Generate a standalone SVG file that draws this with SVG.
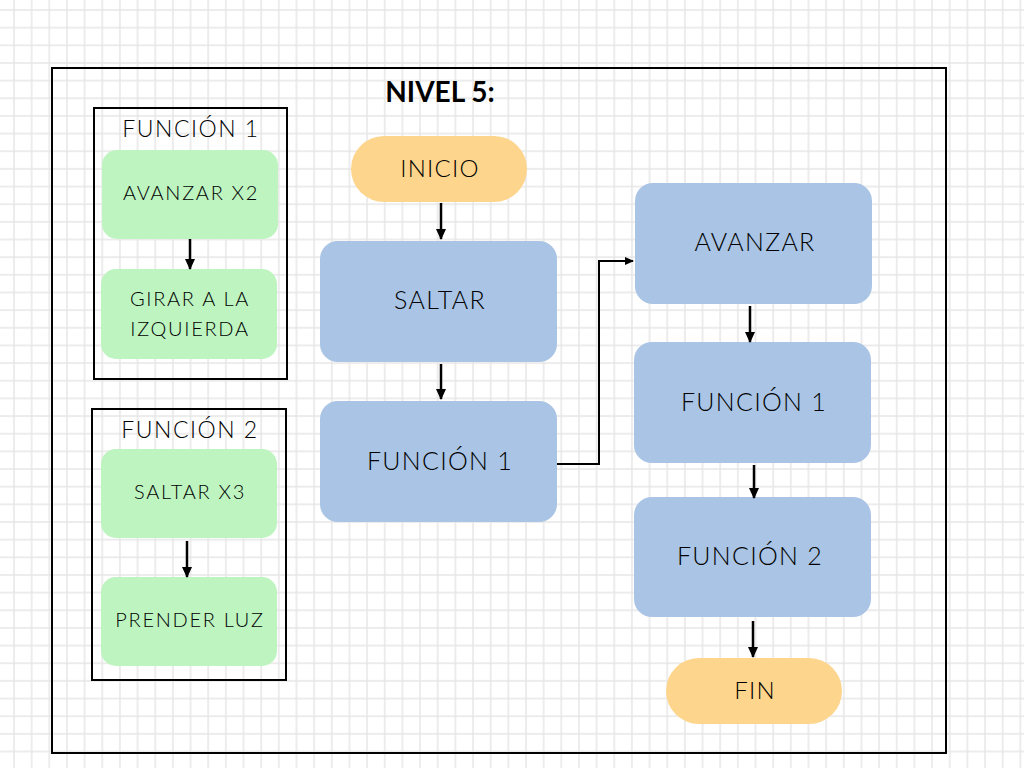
<svg xmlns="http://www.w3.org/2000/svg" width="1024" height="768" viewBox="0 0 1024 768">
<defs>
<pattern id="grid" patternUnits="userSpaceOnUse" x="5.17" y="1.17" width="17.655" height="17.655">
<path d="M8.83 0 V17.655 M0 8.83 H17.655" stroke="#e6e6e6" stroke-width="1.5" fill="none"/>
</pattern>
<marker id="ah" markerWidth="12" markerHeight="10" refX="10" refY="5" orient="auto" markerUnits="userSpaceOnUse">
<path d="M0 0 L11 5 L0 10 Z" fill="#000"/>
</marker>
<marker id="ahs" markerWidth="10" markerHeight="8" refX="8" refY="4" orient="auto" markerUnits="userSpaceOnUse">
<path d="M0 0 L9 4 L0 8 Z" fill="#000"/>
</marker>
</defs>
<style>
.t{font-family:Lato,"Open Sans","Liberation Sans",sans-serif;font-weight:300;fill:#000;text-anchor:middle}
.s{font-size:20px;letter-spacing:1.7px}
.h{font-size:23px;letter-spacing:1.5px}
.m{font-size:25px;letter-spacing:1.3px}
.g{fill:#bdf4c0}
.b{fill:#a9c4e4}
.o{fill:#fdd58c}
.frame{fill:none;stroke:#000;stroke-width:2}
.c{stroke:#000;stroke-width:2.5;fill:none;marker-end:url(#ah)}
</style>
<rect width="1024" height="768" fill="#fff"/>
<rect width="1024" height="768" fill="url(#grid)"/>
<rect class="frame" x="52" y="68" width="894" height="685"/>
<text class="t" x="440" y="102" font-size="28" style="font-weight:bold">NIVEL 5:</text>

<g id="funcion1-box">
<rect class="frame" x="94" y="108" width="193" height="271"/>
<text class="t h" x="191" y="137">FUNCIÓN 1</text>
</g>
<g id="avanzar-x2">
<rect class="g" x="102" y="150" width="176" height="89" rx="15"/>
<text class="t s" x="191" y="200">AVANZAR X2</text>
</g>
<g id="girar">
<rect class="g" x="101" y="269" width="176" height="90" rx="15"/>
<text class="t s" x="190" y="306">GIRAR A LA</text>
<text class="t s" x="190" y="336">IZQUIERDA</text>
</g>

<g id="funcion2-box">
<rect class="frame" x="92" y="409" width="194" height="271"/>
<text class="t h" x="190" y="438">FUNCIÓN 2</text>
</g>
<g id="saltar-x3">
<rect class="g" x="101" y="449" width="176" height="89" rx="15"/>
<text class="t s" x="190" y="499">SALTAR X3</text>
</g>
<g id="prender-luz">
<rect class="g" x="101" y="577" width="176" height="89" rx="15"/>
<text class="t s" x="190" y="627">PRENDER LUZ</text>
</g>

<g id="inicio">
<rect class="o" x="351" y="136" width="176" height="66" rx="33"/>
<text class="t" x="440" y="177" font-size="24" letter-spacing="1.2">INICIO</text>
</g>
<g id="saltar">
<rect class="b" x="320" y="241" width="237" height="121" rx="18"/>
<text class="t m" x="440" y="309">SALTAR</text>
</g>
<g id="funcion1-a">
<rect class="b" x="320" y="401" width="237" height="121" rx="18"/>
<text class="t m" x="440" y="470">FUNCIÓN 1</text>
</g>
<g id="avanzar">
<rect class="b" x="635" y="183" width="237" height="121" rx="18"/>
<text class="t m" x="755" y="251">AVANZAR</text>
</g>
<g id="funcion1-b">
<rect class="b" x="634" y="342" width="237" height="121" rx="18"/>
<text class="t m" x="754" y="411">FUNCIÓN 1</text>
</g>
<g id="funcion2">
<rect class="b" x="634" y="497" width="237" height="120" rx="18"/>
<text class="t m" x="750" y="565">FUNCIÓN 2</text>
</g>
<g id="fin">
<rect class="o" x="666" y="658" width="176" height="66" rx="33"/>
<text class="t" x="755" y="699" font-size="24" letter-spacing="1.2">FIN</text>
</g>

<g id="connectors">
<path class="c" d="M190 239 V269"/>
<path class="c" d="M187 541 V577"/>
<path class="c" d="M441 203 V239"/>
<path class="c" d="M441 364 V399"/>
<path d="M557 464 H599 V261 H633" stroke="#000" stroke-width="2" fill="none" marker-end="url(#ahs)"/>
<path class="c" d="M750 306 V342"/>
<path class="c" d="M754 465 V498"/>
<path class="c" d="M753 621 V657"/>
</g>
</svg>
